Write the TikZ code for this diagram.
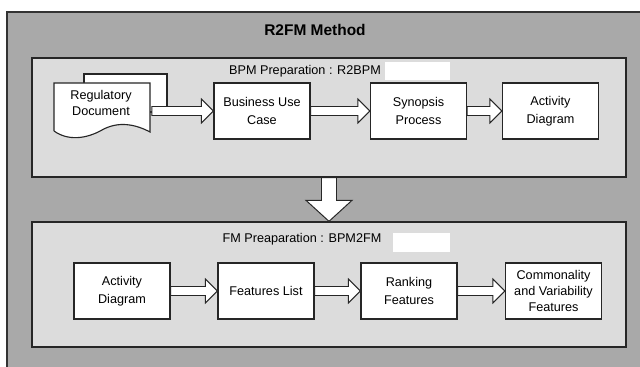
\documentclass[tikz,border=0pt]{standalone}
\usepackage{fontspec}
\setmainfont{Liberation Sans}
\usepackage{tikz}
\usetikzlibrary{calc}

\definecolor{outergray}{HTML}{A9A9A9}
\definecolor{innergray}{HTML}{DCDCDC}

\tikzset{
  box/.style={draw=black!85, fill=white, line width=0.8pt, minimum width=2.4cm,
    minimum height=1.4cm, align=center, inner sep=1pt,
    font=\fontsize{9}{12.5}\selectfont},
  panel/.style={draw=black!85, fill=innergray, line width=0.9pt, inner sep=0pt},
  sheet/.style={draw=black!85, fill=white, line width=0.8pt},
  hollow/.style={draw=black!85, fill=white, line width=0.7pt, line join=miter},
  lbl/.style={font=\fontsize{9}{12}\selectfont},
}

% hollow block arrow between two nodes
\newcommand{\bigarrow}[2]{%
  \draw[hollow] ($(#1.east |- #2.west)+(0,-4.5)$) -- ($(#2.west)+(-12,-4.5)$)
    -- ($(#2.west)+(-12,-12)$) -- (#2.west) -- ($(#2.west)+(-12,12)$)
    -- ($(#2.west)+(-12,4.5)$) -- ($(#1.east |- #2.west)+(0,4.5)$) -- cycle;}

\begin{document}
\begin{tikzpicture}[x=0.025cm, y=-0.025cm]
\useasboundingbox (0,0) rectangle (640,367);
\clip (0,0) rectangle (640,367);
\fill[white] (0,0) rectangle (640,367);
\draw[draw=black!80, fill=outergray, line width=0.9pt] (7,12) rectangle (680,400);
\node[font=\bfseries\fontsize{11}{13}\selectfont](title) at (315,30) {R2FM Method};
%
\node[panel, minimum width=14.85cm, minimum height=2.975cm](bpm) at (329,117.5) {};
\node[panel, minimum width=14.85cm, minimum height=3.125cm](fm) at (329,284.5) {};
\node[lbl](bpmlbl) at (305,71) {BPM Preparation : R2BPM};
\node[lbl](fmlbl) at (302,239) {FM Preaparation : BPM2FM};
\fill[white] (385,62) rectangle (450,80);
\fill[white] (393,233) rectangle (450,252);
%
% regulatory document
\draw[sheet] (84,74) rectangle (167,112);
\draw[sheet] (54,131) -- (54,83) -- (150,83) -- (150,132)
  .. controls (135,124) and (118,121) .. (102,130)
  .. controls (86,139) and (68,141) .. (54,131);
\node[lbl, align=center, text width=2.3cm](reg) at (101,103) {Regulatory\\Document};
%
\node[box](buc) at (262,111) {Business Use\\Case};
\node[box](syn) at (418.5,111) {Synopsis\\Process};
\node[box](act1) at (550.5,111) {Activity\\Diagram};
%
\node[box](act2) at (122,291) {Activity\\Diagram};
\node[box](feat) at (266,291) {Features List};
\node[box](rank) at (409,291) {Ranking\\Features};
\node[box, font=\fontsize{9}{11.5}\selectfont](comm) at (553.5,291) {Commonality\\and Variability\\Features};
%
\bigarrow{reg}{buc}
\bigarrow{buc}{syn}
\bigarrow{syn}{act1}
\bigarrow{act2}{feat}
\bigarrow{feat}{rank}
\bigarrow{rank}{comm}
%
\draw[hollow] ($(bpm.south)+(-7.5,0)$) -- ($(fm.north)+(-7.5,-21)$)
  -- ($(fm.north)+(-23,-21)$) -- (fm.north) -- ($(fm.north)+(23,-21)$)
  -- ($(fm.north)+(7.5,-21)$) -- ($(bpm.south)+(7.5,0)$) -- cycle;
\end{tikzpicture}
\end{document}
